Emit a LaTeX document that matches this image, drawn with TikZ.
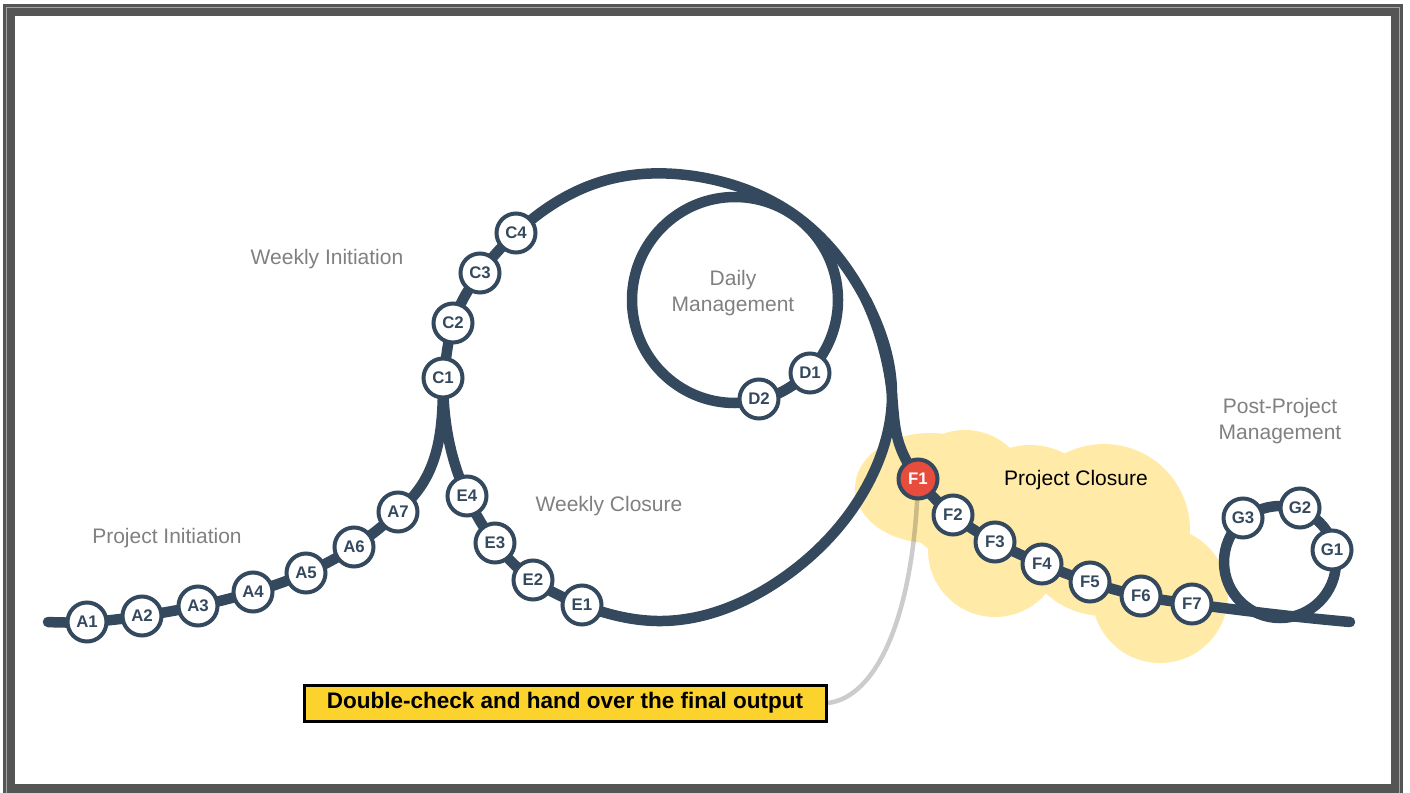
\documentclass[tikz,border=0pt]{standalone}
\usepackage{fontspec}
\setmainfont{Liberation Sans}
\usetikzlibrary{hobby}
\definecolor{dk}{RGB}{52,73,94}
\definecolor{redc}{RGB}{231,76,60}
\definecolor{cloudc}{RGB}{255,234,167}
\definecolor{notec}{RGB}{252,210,45}
\definecolor{lblgray}{RGB}{128,128,128}
\definecolor{framegray}{RGB}{85,85,85}
\definecolor{framelight}{RGB}{165,165,165}
\pgfdeclarelayer{cloudlayer}
\pgfdeclarelayer{pathlayer}
\pgfsetlayers{cloudlayer,pathlayer,main}
\begin{document}
\begin{tikzpicture}[x=1pt,y=-1pt,
  station/.style={circle, draw=dk, fill=white, line width=4pt, minimum size=39pt, inner sep=0pt, text=dk, font=\fontsize{16.8}{18}\selectfont\bfseries},
  redstation/.style={station, fill=redc, text=white},
  track/.style={draw=dk, line width=10.5pt, line cap=round, line join=round},
  lbl/.style={text=lblgray, font=\fontsize{21}{26}\selectfont, inner sep=0pt, anchor=base, align=center},
  lbltop/.style={lbl, anchor=north},
  notebox/.style={draw=black, fill=notec, line width=3pt, minimum width=522pt, minimum height=36pt, inner sep=0pt, font=\fontsize{22.5}{26}\selectfont\bfseries},
  leader/.style={draw=black, draw opacity=0.2, line width=4.5pt}
]
\useasboundingbox (0,0) rectangle (1410,792);
% frame
\draw[line width=12pt, draw=framegray] (9,10) rectangle (1397,790);
\draw[line width=0.8pt, draw=framelight] (6.5,7.5) rectangle (1399.5,796);

% stations
\node[station] (A1) at (87,622) {A1};
\node[station] (A2) at (142,616) {A2};
\node[station] (A3) at (198,606) {A3};
\node[station] (A4) at (253,592) {A4};
\node[station] (A5) at (306,573) {A5};
\node[station] (A6) at (354,547) {A6};
\node[station] (A7) at (398,512) {A7};
\node[station] (C1) at (443,378) {C1};
\node[station] (C2) at (453,323) {C2};
\node[station] (C3) at (480,273) {C3};
\node[station] (C4) at (516,233) {C4};
\node[station] (E4) at (467,496) {E4};
\node[station] (E3) at (495,543) {E3};
\node[station] (E2) at (533,580) {E2};
\node[station] (E1) at (582,605) {E1};
\node[station] (D1) at (810,373) {D1};
\node[station] (D2) at (759,399) {D2};
\node[redstation] (F1) at (918,479) {F1};
\node[station] (F2) at (953,515) {F2};
\node[station] (F3) at (995,542) {F3};
\node[station] (F4) at (1042,564) {F4};
\node[station] (F5) at (1090,582) {F5};
\node[station] (F6) at (1141,596) {F6};
\node[station] (F7) at (1192,604) {F7};
\node[station] (G1) at (1332,550) {G1};
\node[station] (G2) at (1300,508) {G2};
\node[station] (G3) at (1243,518) {G3};

% labels
\node[lbl] (lpi) at (167,543.3) {Project Initiation};
\node[lbl] (lwi) at (327,264) {Weekly Initiation};
\node[lbl] (lwc) at (609,511.5) {Weekly Closure};
\node[lbltop] (ldm) at (733,270) {Daily\\Management};
\node[lbl, text=black] (lpc) at (1076,485) {Project Closure};
\node[lbltop] (lppm) at (1280,397.7) {Post-Project\\Management};
\node[notebox] (note) at (565,703) {Double-check and hand over the final output};

% waypoints
\coordinate (a0) at (48,622);
\coordinate (aw1) at (421,486);
\coordinate (w1) at (600,182);
\coordinate (w2) at (700,177);
\coordinate (w3) at (800,219);
\coordinate (w4) at (866,300);
\coordinate (w5) at (892,395);
\coordinate (w6) at (870,480);
\coordinate (w8) at (780,580);
\coordinate (w10) at (657,621);
\coordinate (ew) at (451,450);
\coordinate (cl1) at (898,440);
\coordinate (g2) at (1290,616);
\coordinate (gend) at (1350,622);
\coordinate (gc) at (1280,562);
\coordinate (dc) at (735,300);

\begin{pgfonlayer}{cloudlayer}
\fill[cloudc] (930,488) ellipse[x radius=75pt, y radius=55pt]
  (965,495) circle[radius=65pt]
  (1030,520) circle[radius=75pt]
  (1104,530) circle[radius=86pt]
  (995,550) circle[radius=67pt]
  (1160,595) circle[radius=68pt];
\end{pgfonlayer}

\begin{pgfonlayer}{pathlayer}
\draw[leader] (note.east) .. controls (875,698) and (914,620) .. (F1.center);
\draw[track, use Hobby shortcut] (a0) .. (A1.center) .. (A2.center) .. (A3.center) .. (A4.center) .. (A5.center) .. (A6.center) .. (A7.center) .. (aw1) .. ([in angle=-90]C1.center);
\draw[track, use Hobby shortcut] ([out angle=80]C1.center) .. (C2.center) .. (C3.center) .. (C4.center) .. (w1) .. (w2) .. (w3) .. (w4) .. (w5) .. (w6) .. (w8) .. (w10) .. (E1.center) .. (E2.center) .. (E3.center) .. (E4.center) .. (ew) .. ([in angle=-90]C1.center);
\draw[track, use Hobby shortcut] (w4) .. (w5) .. (cl1) .. (F1.center) .. (F2.center) .. (F3.center) .. (F4.center) .. (F5.center) .. (F6.center) .. (F7.center) .. (g2) .. (gend);
\draw[track] (dc) circle[radius=103pt];
\draw[track] (gc) circle[radius=56pt];
\end{pgfonlayer}
\end{tikzpicture}
\end{document}
